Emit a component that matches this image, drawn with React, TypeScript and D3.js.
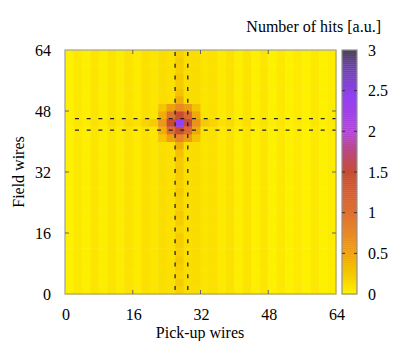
import React from 'react';
import { scaleLinear, range } from 'd3';

// axis ticks
const xTicks = [0, 16, 32, 48, 64];
const yTicks = [0, 16, 32, 48, 64];
const cbTicks = [0, 0.5, 1, 1.5, 2, 2.5, 3];
const cbTickLabels = ['0', '0.5', '1', '1.5', '2', '2.5', '3'];

// background hits per pick-up wire pair (32 columns, 2 wires each)
const colBase = [0.02, 0.07, 0.03, 0.08, 0.04, 0.09, 0.05, 0.1, 0.06, 0.11, 0.08, 0.12, 0.11, 0.12, 0.12, 0.13,
  0.09, 0.11, 0.06, 0.1, 0.04, 0.09, 0.03, 0.08, 0.02, 0.07, 0.02, 0.06, 0.02, 0.07, 0.02, 0.05];

// extra hits along the hit pick-up column (index 13), per field-wire row from bottom
const colBand = [0.07, 0.11, 0.06, 0.09, 0.12, 0.07, 0.09, 0.11, 0.06, 0.1, 0.12, 0.08, 0.09, 0.12, 0.08, 0.11,
  0.13, 0.12, 0.18, 0.3, 0.5, 0.9, 2.3, 0.9, 0.45, 0.3, 0.18, 0.11, 0.13, 0.09, 0.11, 0.08];

// extra hits along the hit field-wire row (index 22), per pick-up column
const rowBand = [0.01, 0.01, 0.02, 0.02, 0.02, 0.03, 0.03, 0.04, 0.05, 0.07, 0.15, 0.3, 0.6, 2.3, 0.7, 0.3,
  0.15, 0.07, 0.05, 0.04, 0.03, 0.03, 0.02, 0.02, 0.02, 0.01, 0.01, 0.01, 0.01, 0.01, 0.01, 0.01];

// hits around the peak, columns 11..15, rows 24 (top) .. 20 (bottom)
const patchCols = [11, 12, 13, 14, 15];
const patchRows = [24, 23, 22, 21, 20];
const patch = [
  [0.28, 0.5, 0.75, 0.55, 0.3],
  [0.42, 1.0, 1.5, 1.1, 0.45],
  [0.6, 1.5, 2.45, 1.55, 0.65],
  [0.42, 1.05, 1.5, 1.1, 0.45],
  [0.28, 0.5, 0.8, 0.55, 0.3],
];

// dashed lines framing the hit wires
const vLines = [26, 29];
const hLines = [43, 46];

const colorStops = [0, 0.1, 0.2, 0.35, 0.5, 0.8, 1.0, 1.3, 1.5, 1.8, 2.0, 2.45, 2.8, 3];
const colorValues = ['#fff500', '#fbe200', '#f7d000', '#f2bb00', '#eea010', '#e68428', '#e07030', '#d4582c',
  '#c84c32', '#b84890', '#b044d8', '#9240f4', '#6a40a8', '#4c4454'];

const W = 416;
const H = 341;
const L = 65, R = 336, T = 50, B = 294;
const cbL = 342, cbR = 357;
const font = "'Liberation Serif', 'Times New Roman', serif";

function cellValue(c: number, r: number): number {
  const pc = patchCols.indexOf(c);
  const pr = patchRows.indexOf(r);
  if (pc >= 0 && pr >= 0) return patch[pr][pc];
  let v = colBase[c];
  if (c === 13) v += colBand[r];
  if (r === 22) v += rowBand[c];
  return v;
}

export default function App() {
  const x = scaleLinear().domain([0, 64]).range([L, R]);
  const y = scaleLinear().domain([0, 64]).range([B, T]);
  const yc = scaleLinear().domain([0, 3]).range([B, T]);
  const color = scaleLinear<string>().domain(colorStops).range(colorValues).clamp(true);

  const cells: { c: number; r: number; v: number }[] = [];
  range(32).forEach(c => range(32).forEach(r => cells.push({ c, r, v: cellValue(c, r) })));

  const cbSteps = range(0, 3, 0.025);
  const txt = { fontFamily: font, fontSize: 16 };

  return (
    <svg width={W} height={H} style={{ position: 'absolute', left: 0, top: 0, background: '#fff' }}>
      {/* heatmap */}
      <g>
        {cells.map(d => (
          <rect key={`${d.c}-${d.r}`} x={x(d.c * 2)} y={y(d.r * 2 + 2)}
            width={x(2) - x(0) + 0.5} height={y(0) - y(2) + 0.5} fill={color(d.v)} />
        ))}
      </g>

      {/* dashed lines */}
      {vLines.map(v => (
        <line key={'v' + v} x1={x(v)} x2={x(v)} y1={T + 2} y2={B} stroke="#222" strokeWidth={1.3}
          strokeDasharray="4,7.7" />
      ))}
      {hLines.map(v => (
        <line key={'h' + v} x1={L + 10} x2={R} y1={y(v)} y2={y(v)} stroke="#222" strokeWidth={1.3}
          strokeDasharray="4,7.7" />
      ))}

      {/* frame and ticks */}
      <rect x={L} y={T} width={R - L} height={B - T} fill="none" stroke="#a0a0a0" strokeWidth={1.2} />
      {xTicks.slice(1, -1).map(t => (
        <g key={'xt' + t} stroke="#666" strokeWidth={1}>
          <line x1={x(t)} x2={x(t)} y1={B} y2={B - 4} />
          <line x1={x(t)} x2={x(t)} y1={T} y2={T + 4} />
        </g>
      ))}
      {yTicks.slice(1, -1).map(t => (
        <g key={'yt' + t} stroke="#666" strokeWidth={1}>
          <line x1={L} x2={L + 4} y1={y(t)} y2={y(t)} />
          <line x1={R} x2={R - 4} y1={y(t)} y2={y(t)} />
        </g>
      ))}

      {/* tick labels */}
      {xTicks.map(t => (
        <text key={'xl' + t} x={x(t) + 1} y={314.5} textAnchor="middle" dominantBaseline="central" style={txt}>{t}</text>
      ))}
      {yTicks.map(t => (
        <text key={'yl' + t} x={51} y={y(t)} textAnchor="end" dominantBaseline="central" style={txt}>{t}</text>
      ))}

      {/* axis titles */}
      <text x={200} y={332} textAnchor="middle" dominantBaseline="central" style={txt}>Pick-up wires</text>
      <text transform={`translate(18,${(T + B) / 2}) rotate(-90)`} textAnchor="middle" dominantBaseline="central"
        style={txt}>Field wires</text>

      {/* colour bar */}
      {cbSteps.map(s => (
        <rect key={'cb' + s} x={cbL} y={yc(s + 0.025)} width={cbR - cbL} height={yc(s) - yc(s + 0.025) + 0.4}
          fill={color(s + 0.0125)} />
      ))}
      <rect x={cbL} y={T} width={cbR - cbL} height={B - T} fill="none" stroke="#909090" strokeWidth={1.2} />
      {cbTicks.slice(1, -1).map(t => (
        <g key={'cbt' + t} stroke="#333" strokeWidth={1}>
          <line x1={cbL} x2={cbL + 3} y1={yc(t)} y2={yc(t)} />
          <line x1={cbR} x2={cbR - 3} y1={yc(t)} y2={yc(t)} />
        </g>
      ))}
      {cbTicks.map((t, i) => (
        <text key={'cbl' + t} x={368} y={yc(t)} dominantBaseline="central" style={txt}>{cbTickLabels[i]}</text>
      ))}
      <text x={381} y={26} textAnchor="end" dominantBaseline="central" style={txt}>Number of hits [a.u.]</text>
    </svg>
  );
}
